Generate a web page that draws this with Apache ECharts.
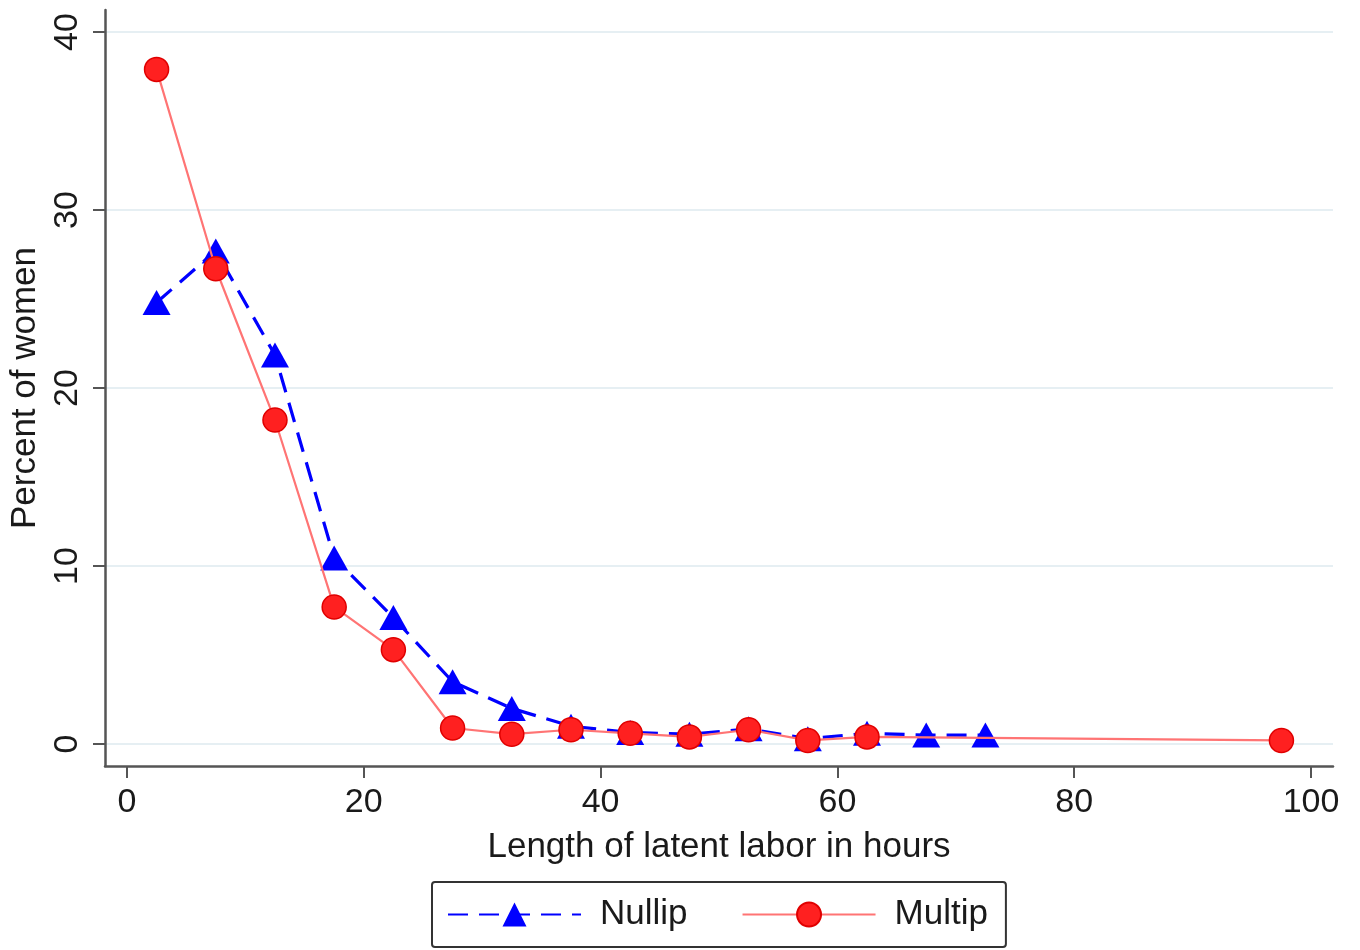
<!DOCTYPE html>
<html>
<head>
<meta charset="utf-8">
<title>Latent labor length</title>
<script src="https://cdn.jsdelivr.net/npm/echarts@6/dist/echarts.min.js"></script>
<style>
  html, body { margin: 0; padding: 0; background: #fff; }
  #chart { width: 1360px; height: 950px; }
</style>
</head>
<body>
<div id="chart"></div>
<script>
// hours (bin midpoints) and percent of women
const nullipHours = [2.5, 7.5, 12.5, 17.5, 22.5, 27.5, 32.5, 37.5, 42.5, 47.5, 52.5, 57.5, 62.5, 67.5, 72.5];
const nullipPct = [24.8, 27.7, 21.85, 10.45, 7.1, 3.5, 2.0, 1.0, 0.65, 0.55, 0.85, 0.3, 0.6, 0.5, 0.5];
const multipHours = [2.5, 7.5, 12.5, 17.5, 22.5, 27.5, 32.5, 37.5, 42.5, 47.5, 52.5, 57.5, 62.5, 97.5];
const multipPct = [37.9, 26.7, 18.2, 7.7, 5.3, 0.9, 0.55, 0.8, 0.6, 0.4, 0.8, 0.2, 0.4, 0.2];
const xTicks = [0, 20, 40, 60, 80, 100];
const yTicks = [0, 10, 20, 30, 40];

const FONT = 'Liberation Sans';
const axisColor = '#555';

const chart = echarts.init(document.getElementById('chart'));

const toPairs = (xs, ys) => xs.map((x, i) => [x, ys[i]]);

chart.setOption({
  animation: false,
  textStyle: { fontFamily: FONT },
  grid: {
    left: 103,
    right: 27,
    top: 10,
    bottom: 184
  },
  xAxis: {
    type: 'value',
    min: -1.855,
    max: 101.855,
    name: 'Length of latent labor in hours',
    nameLocation: 'middle',
    nameGap: 64,
    nameTextStyle: { fontSize: 35, color: '#1a1a1a', fontFamily: FONT },
    axisLine: { show: true, onZero: false, lineStyle: { color: axisColor, width: 2.5 } },
    axisTick: {
      show: true,
      customValues: xTicks,
      length: 12,
      lineStyle: { color: axisColor, width: 2 }
    },
    axisLabel: {
      customValues: xTicks,
      fontSize: 34,
      color: '#1a1a1a',
      margin: 20
    },
    splitLine: { show: false }
  },
  yAxis: {
    type: 'value',
    min: -1.236,
    max: 41.236,
    name: 'Percent of women',
    nameLocation: 'middle',
    nameGap: 62,
    nameRotate: 90,
    nameTextStyle: { fontSize: 35, color: '#1a1a1a', fontFamily: FONT },
    axisLine: { show: true, onZero: false, lineStyle: { color: axisColor, width: 2.5 } },
    axisTick: {
      show: true,
      customValues: yTicks,
      length: 12,
      lineStyle: { color: axisColor, width: 2 }
    },
    axisLabel: {
      customValues: yTicks,
      rotate: 90,
      fontSize: 34,
      color: '#1a1a1a',
      margin: 20
    },
    splitLine: {
      show: true,
      lineStyle: { color: '#e6eff3', width: 2 }
    }
  },
  legend: {
    left: 432,
    top: 882,
    orient: 'horizontal',
    padding: [15, 18, 15, 15],
    itemGap: 54,
    itemWidth: 133,
    itemHeight: 30,
    borderColor: '#333',
    borderWidth: 2,
    borderRadius: 3,
    textStyle: { fontSize: 35, color: '#1a1a1a', fontFamily: FONT, padding: [0, 0, 0, 14] },
    data: ['Nullip', 'Multip']
  },
  series: [
    {
      name: 'Nullip',
      type: 'line',
      data: toPairs(nullipHours, nullipPct),
      symbol: 'triangle',
      symbolSize: [28, 25],
      itemStyle: { color: '#0000ff' },
      lineStyle: { color: '#0000ff', width: 3.2, type: [20, 11] },
      z: 2
    },
    {
      name: 'Multip',
      type: 'line',
      data: toPairs(multipHours, multipPct),
      symbol: 'circle',
      symbolSize: 24,
      itemStyle: { color: '#ff2020', borderColor: '#e00000', borderWidth: 1.5 },
      lineStyle: { color: '#ff7474', width: 2.2, type: 'solid' },
      z: 3
    }
  ]
});
</script>
</body>
</html>
